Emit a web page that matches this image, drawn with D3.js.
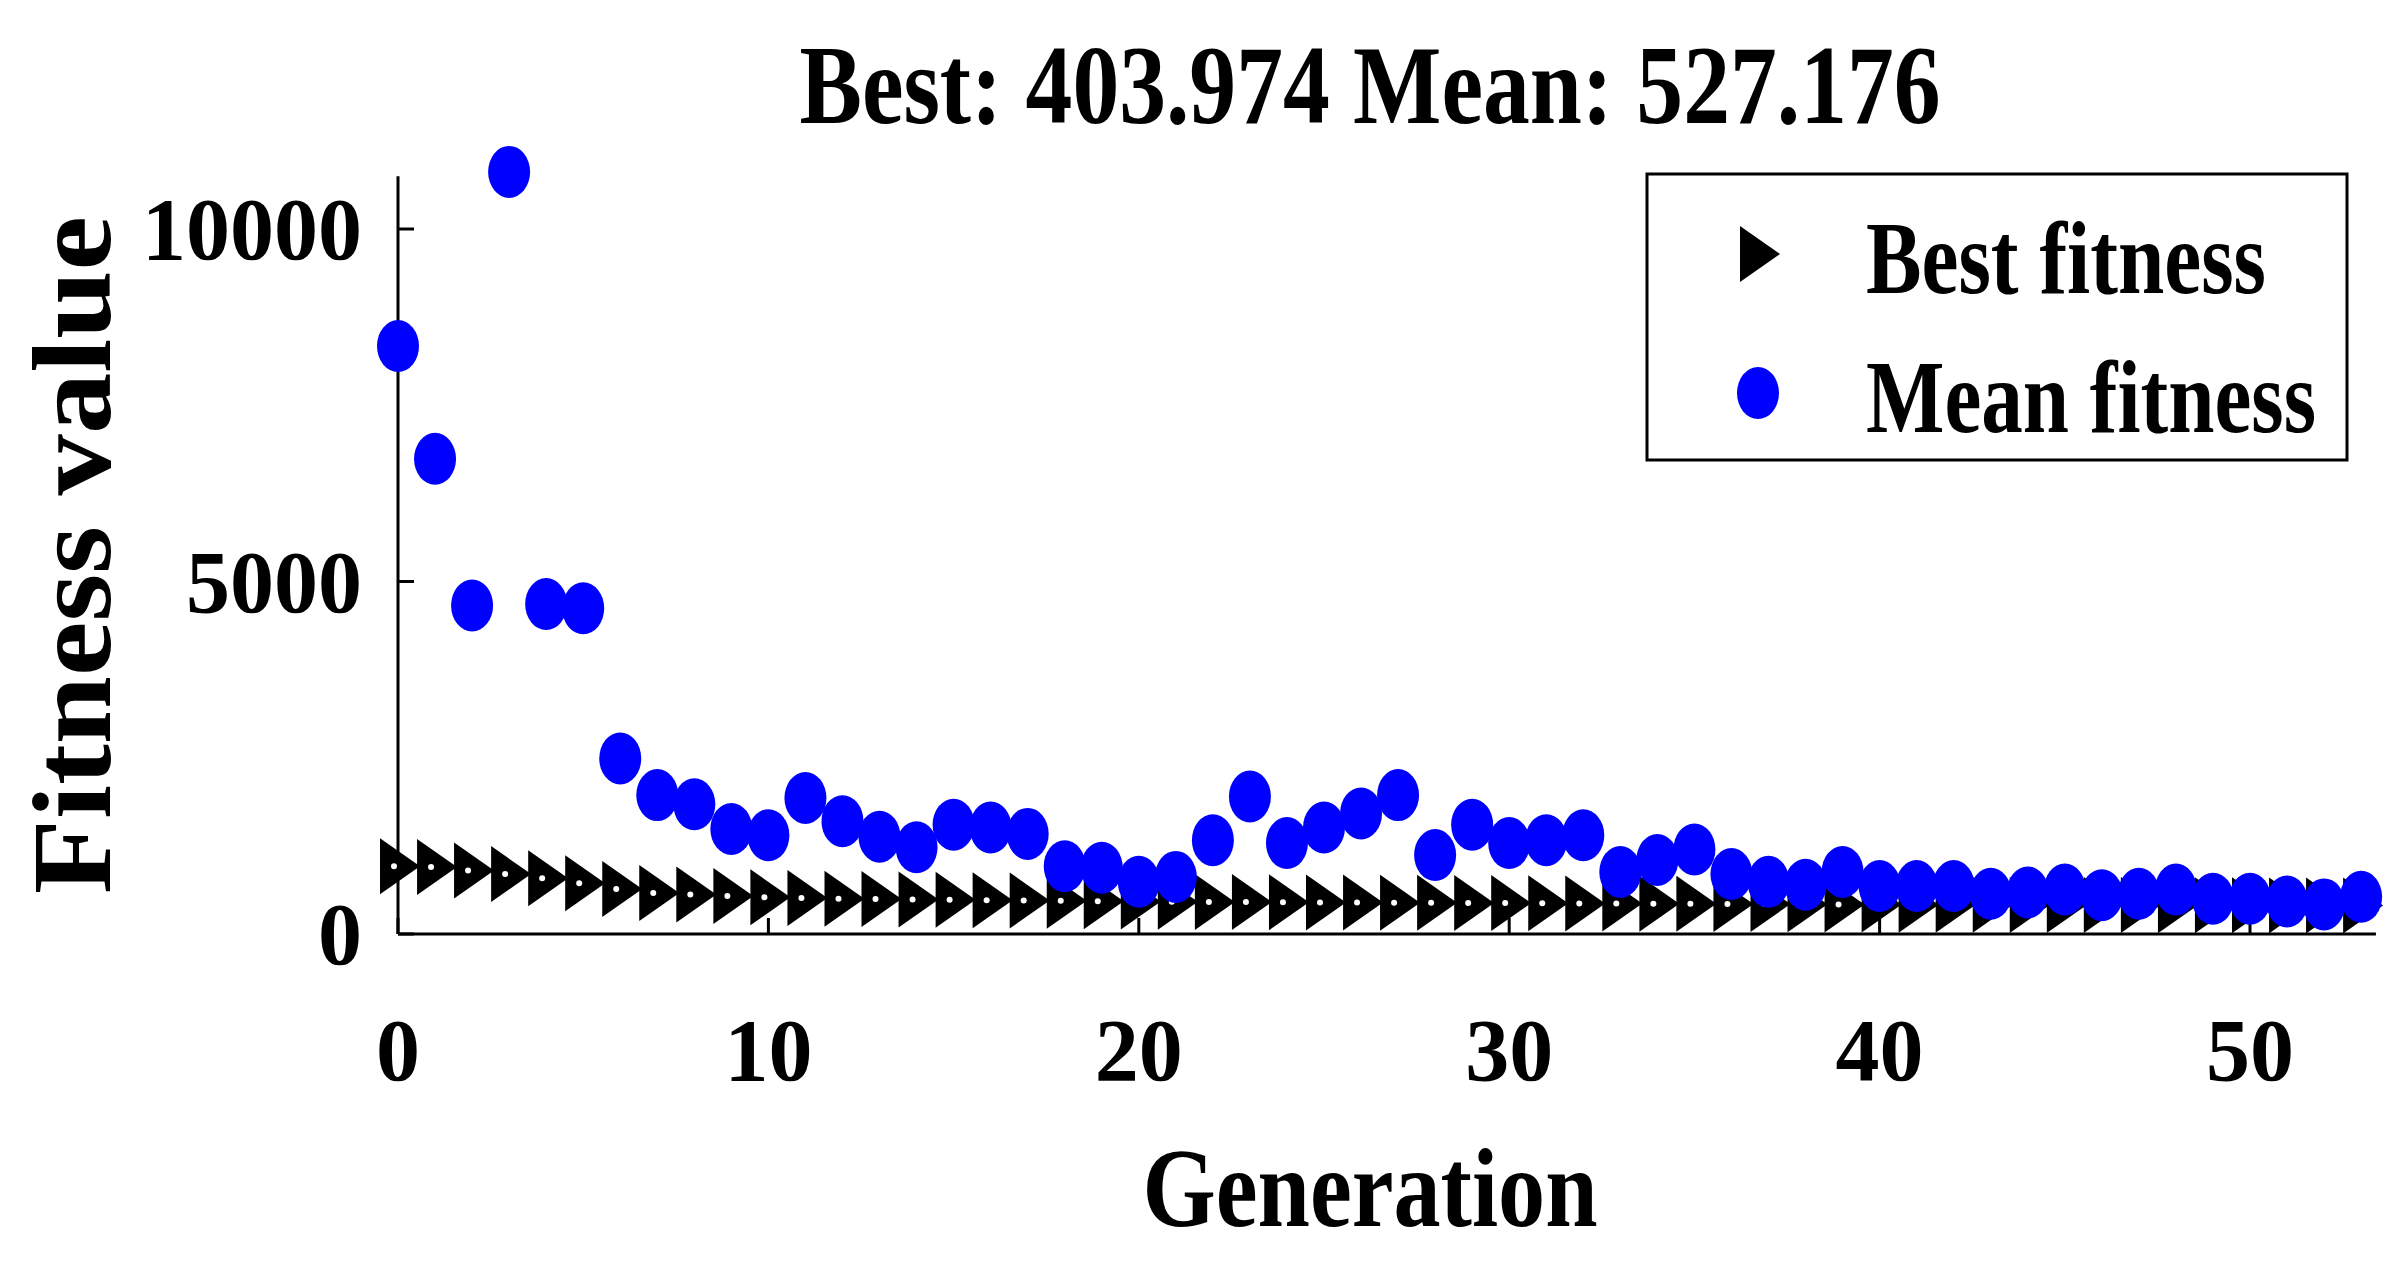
<!DOCTYPE html>
<html>
<head>
<meta charset="utf-8">
<script src="https://cdn.jsdelivr.net/npm/d3@7"></script>
<style>body{margin:0;background:#fff}</style>
</head>
<body>
<script>
var generations = d3.range(54);
var bestFitness = [960, 950, 900, 850, 790, 720, 640, 580, 560, 540, 520, 510, 500, 495, 490, 485, 480, 475, 470, 465,
  460, 458, 455, 453, 450, 448, 446, 444, 442, 440, 438, 436, 434, 432, 430, 428, 426, 424, 422, 420,
  418, 416, 415, 414, 413, 412, 411, 410, 409, 408, 407, 406, 405, 404];
var meanFitness = [8340, 6740, 4660, 10810, 4680, 4620, 2490, 1970, 1840, 1490, 1400, 1930, 1600, 1380, 1230, 1550, 1510, 1420, 960, 940,
  740, 810, 1330, 1950, 1290, 1510, 1710, 1970, 1120, 1550, 1290, 1330, 1400, 880, 1050, 1200, 850, 740, 700, 880,
  680, 680, 680, 570, 590, 630, 550, 570, 630, 500, 500, 460, 420, 527];
var xTicks = [0, 10, 20, 30, 40, 50];
var yTicks = [0, 5000, 10000];

var W = 2405, H = 1283;
var left = 398, bottom = 934;
var font = "'Liberation Serif', 'DejaVu Serif', serif";
var tri = "M-18,-28L22,0L-18,28Z";

var x = d3.scaleLinear().domain([0, 50]).range([left, left + 50 * 37.04]);
var y = d3.scaleLinear().domain([0, 10000]).range([bottom, bottom - 705]);

var svg = d3.select("body").append("svg").attr("width", W).attr("height", H);

// axes lines
svg.append("line").attr("x1", left).attr("x2", left).attr("y1", y(10750)).attr("y2", bottom)
  .attr("stroke", "#000").attr("stroke-width", 3);
svg.append("line").attr("x1", left).attr("x2", x(53.4)).attr("y1", bottom).attr("y2", bottom)
  .attr("stroke", "#000").attr("stroke-width", 3);

svg.selectAll(".yt").data(yTicks).enter().append("line")
  .attr("x1", left).attr("x2", left + 16).attr("y1", function (d) { return y(d); }).attr("y2", function (d) { return y(d); })
  .attr("stroke", "#000").attr("stroke-width", 3);
svg.selectAll(".xt").data(xTicks).enter().append("line")
  .attr("x1", function (d) { return x(d); }).attr("x2", function (d) { return x(d); }).attr("y1", bottom).attr("y2", bottom - 16)
  .attr("stroke", "#000").attr("stroke-width", 3);

svg.selectAll(".yl").data(yTicks).enter().append("text")
  .attr("x", 362).attr("y", function (d) { return y(d) + 30; })
  .attr("text-anchor", "end").attr("font-family", font).attr("font-weight", "bold").attr("font-size", 88)
  .text(function (d) { return d; });
svg.selectAll(".xl").data(xTicks).enter().append("text")
  .attr("x", function (d) { return x(d); }).attr("y", 1080)
  .attr("text-anchor", "middle").attr("font-family", font).attr("font-weight", "bold").attr("font-size", 88)
  .text(function (d) { return d; });

// markers
svg.selectAll(".best").data(generations).enter().append("path")
  .attr("d", tri)
  .attr("transform", function (d) { return "translate(" + x(d) + "," + y(bestFitness[d]) + ")"; })
  .attr("fill", "#000");
svg.selectAll(".best2").data(generations).enter().append("circle")
  .attr("cx", function (d) { return x(d) - 4; }).attr("cy", function (d) { return y(bestFitness[d]); })
  .attr("r", 3).attr("fill", "#fff");
svg.selectAll(".mean").data(generations).enter().append("ellipse")
  .attr("cx", function (d) { return x(d); }).attr("cy", function (d) { return y(meanFitness[d]); })
  .attr("rx", 21).attr("ry", 26).attr("fill", "#0000ff");

// title and axis labels
svg.append("text").attr("x", 1370).attr("y", 123).attr("text-anchor", "middle")
  .attr("font-family", font).attr("font-weight", "bold").attr("font-size", 112)
  .attr("textLength", 1141).attr("lengthAdjust", "spacingAndGlyphs")
  .text("Best: 403.974 Mean: 527.176");
svg.append("text").attr("x", 1370).attr("y", 1226).attr("text-anchor", "middle")
  .attr("font-family", font).attr("font-weight", "bold").attr("font-size", 112)
  .attr("textLength", 455).attr("lengthAdjust", "spacingAndGlyphs")
  .text("Generation");
svg.append("text").attr("transform", "translate(110,555) rotate(-90)").attr("text-anchor", "middle")
  .attr("font-family", font).attr("font-weight", "bold").attr("font-size", 112)
  .attr("textLength", 678).attr("lengthAdjust", "spacingAndGlyphs")
  .text("Fitness value");

// legend
svg.append("rect").attr("x", 1647).attr("y", 174).attr("width", 700).attr("height", 286)
  .attr("fill", "#fff").attr("stroke", "#000").attr("stroke-width", 3);
svg.append("path").attr("d", tri).attr("transform", "translate(1758,254)").attr("fill", "#000");
svg.append("ellipse").attr("cx", 1758).attr("cy", 393).attr("rx", 21).attr("ry", 26).attr("fill", "#0000ff");
svg.append("text").attr("x", 1866).attr("y", 293).attr("font-family", font).attr("font-weight", "bold")
  .attr("font-size", 104).attr("textLength", 400).attr("lengthAdjust", "spacingAndGlyphs").text("Best fitness");
svg.append("text").attr("x", 1866).attr("y", 432).attr("font-family", font).attr("font-weight", "bold")
  .attr("font-size", 104).attr("textLength", 450).attr("lengthAdjust", "spacingAndGlyphs").text("Mean fitness");
</script>
</body>
</html>
